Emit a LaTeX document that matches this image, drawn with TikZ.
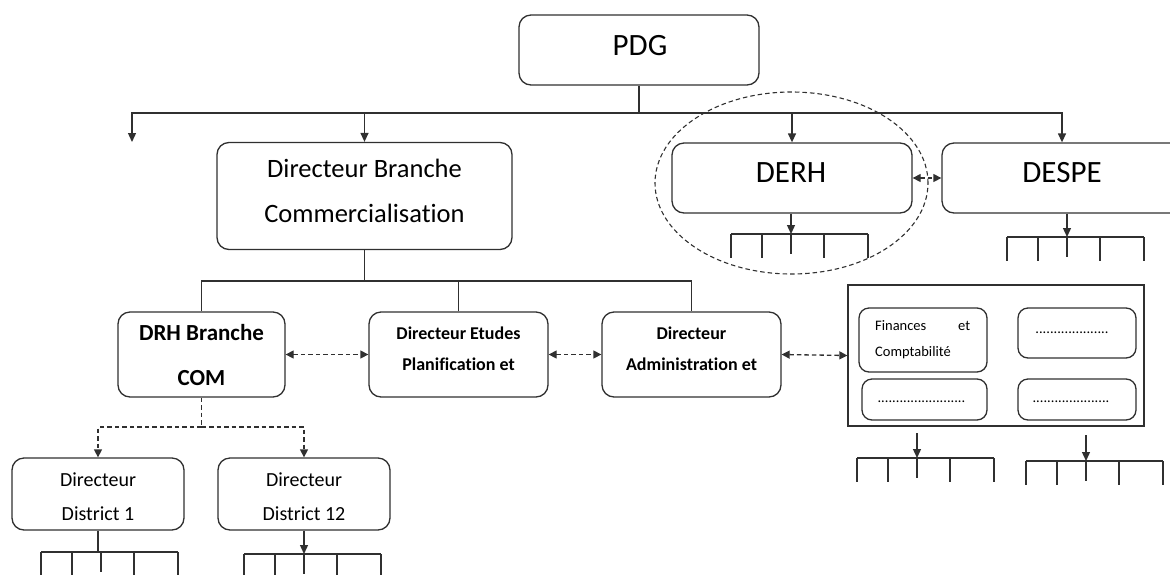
\documentclass[tikz,border=0pt]{standalone}
\usepackage{fontspec}
\setmainfont{Carlito}[Ligatures={NoCommon,NoContextual}]
\usetikzlibrary{arrows.meta,shapes.geometric}
\definecolor{ink}{HTML}{303030}

\tikzset{
  line/.style={line width=1.3pt, draw=ink},
  rbox/.style={line, rounded corners=12pt, inner sep=0pt},
  sbox/.style={line, rounded corners=10pt, inner sep=0pt},
  plainbox/.style={line, inner sep=0pt},
  arr/.style={line, -{Triangle[length=9pt,width=8pt]}},
  dsh/.style={line, dash pattern=on 4.5pt off 3pt},
  darr/.style={dsh, {Triangle[length=8pt,width=8pt]}-{Triangle[length=8pt,width=8pt]}},
  dlarr/.style={dsh, -{Triangle[length=8pt,width=8pt]}},
  txt/.style={anchor=base, inner sep=0pt, text=black},
  big/.style={txt, font=\fontsize{31}{37}\selectfont},
  mid/.style={txt, font=\fontsize{26.5}{30}\selectfont},
  bmid/.style={txt, font=\bfseries\fontsize{23}{26}\selectfont},
  bsmall/.style={txt, font=\bfseries\fontsize{18}{22}\selectfont},
  small/.style={txt, font=\fontsize{20}{23}\selectfont},
  tiny/.style={txt, font=\fontsize{14.5}{17}\selectfont},
  comb/.pic={
    \draw[line] (-60,0) -- (77,0);
    \foreach \dx in {-60,-29,33,77} \draw[line] (\dx,0) -- (\dx,24);
    \draw[line] (0,0) -- (0,20);
  }
}

\begin{document}
\begin{tikzpicture}[x=1pt,y=-1pt]
\useasboundingbox (0,0) rectangle (1170,574);
\clip (0,0) rectangle (1170,574);

% ---- top level
\node[rbox, minimum width=240pt, minimum height=70pt] (pdg) at (639,50) {};
\node[big] (tpdg) at (640,55) {PDG};

\node[rbox, minimum width=295pt, minimum height=107pt] (dbc) at (364.5,196) {};
\node[mid] (tdbc1) at (364.5,177) {Directeur Branche};
\node[mid] (tdbc2) at (364.5,222) {Commercialisation};

\node[rbox, minimum width=240pt, minimum height=70pt] (derh) at (792,178) {};
\node[big] (tderh) at (791,182) {DERH};

\node[rbox, minimum width=240pt, minimum height=70pt] (despe) at (1062,178) {};
\node[big] (tdespe) at (1062,182) {DESPE};

% dashed ellipse around DERH
\node[dsh, line width=1.1pt, ellipse, minimum width=273pt, minimum height=182pt, inner sep=0pt] (focus) at (791.5,183) {};

% ---- bus from PDG
\coordinate (bus1) at (639,113);
\coordinate (free1) at (132,142);
\draw[line] (pdg.south) -- (bus1);
\draw[arr] (bus1) -| (free1);
\draw[arr] (bus1) -| (dbc.north);
\draw[arr] (bus1) -| (derh.north);
\draw[arr] (bus1) -| (despe.north);

\draw[darr] (derh.east) -- (despe.west);

% ---- sub-units of DERH and DESPE
\coordinate (cderh) at (791,234);
\pic at (cderh) {comb};
\draw[arr] (derh.south -| cderh) -- (cderh);

\coordinate (cdespe) at (1067,237);
\pic at (cdespe) {comb};
\draw[arr] (despe.south -| cdespe) -- (cdespe);

% ---- second level
\node[rbox, minimum width=167pt, minimum height=85pt] (drh) at (201.5,354.5) {};
\node[bmid] (tdrh1) at (201.5,340) {DRH Branche};
\node[bmid] (tdrh2) at (201.5,385) {COM};

\node[rbox, minimum width=179pt, minimum height=85pt] (etu) at (458.5,354.5) {};
\node[bsmall] (tetu1) at (458.5,339) {Directeur Etudes};
\node[bsmall] (tetu2) at (458.5,370) {Planification et};

\node[rbox, minimum width=179pt, minimum height=85pt] (adm) at (691.5,354.5) {};
\node[bsmall] (tadm1) at (691.5,339) {Directeur};
\node[bsmall] (tadm2) at (691.5,370) {Administration et};

\coordinate (bus2) at (364.5,281);
\draw[line] (dbc.south) -- (bus2);
\draw[line] (drh.north) |- (adm.north |- bus2) -- (adm.north);
\draw[line] (etu.north) -- (etu.north |- bus2);

% ---- grouped departments
\node[plainbox, minimum width=296pt, minimum height=141pt] (grp) at (996,355.5) {};
\node[sbox, minimum width=128pt, minimum height=64pt] (fin) at (923,340) {};
\node[tiny, anchor=base west] (tfin1) at (875,330) {\makebox[95pt][s]{Finances\hfill et}};
\node[tiny, anchor=base west] (tfin2) at (875,356) {Comptabilité};
\node[sbox, minimum width=118pt, minimum height=50pt] (ib1) at (1077,333) {};
\node[tiny] (tib1) at (1072,333) {....................};
\node[sbox, minimum width=125pt, minimum height=41pt] (ib2) at (924.5,399.5) {};
\node[tiny] (tib2) at (921.5,402) {........................};
\node[sbox, minimum width=118pt, minimum height=41pt] (ib3) at (1077,399.5) {};
\node[tiny] (tib3) at (1071,402) {.....................};

\draw[darr] (drh.east) -- (etu.west);
\draw[darr] (etu.east) -- (adm.west);
\draw[darr] (adm.east) -- (grp.west);

\coordinate (ga) at (917,433);
\coordinate (gb) at (917,458);
\pic at (gb) {comb};
\draw[arr] (ga) -- (gb);

\coordinate (gc) at (1086,435);
\coordinate (gd) at (1086,461);
\pic at (gd) {comb};
\draw[arr] (gc) -- (gd);

% ---- districts
\node[rbox, minimum width=172pt, minimum height=72pt] (d1) at (98,494) {};
\node[small] (td1a) at (98,486) {Directeur};
\node[small] (td1b) at (98,520) {District 1};

\node[rbox, minimum width=172pt, minimum height=72pt] (d12) at (304,494) {};
\node[small] (td12a) at (304,486) {Directeur};
\node[small] (td12b) at (304,520) {District 12};

\coordinate (bus3) at (201.5,427);
\draw[dsh] (drh.south) -- (bus3);
\draw[dlarr] (bus3) -| (d1.north);
\draw[dlarr] (bus3) -| (d12.north);

\coordinate (cd1) at (101,552);
\pic at (cd1) {comb};
\draw[line] (d1.south) -- (d1.south |- cd1);

\coordinate (cd12) at (304,554);
\pic at (cd12) {comb};
\draw[arr] (d12.south) -- (cd12);
\end{tikzpicture}
\end{document}
